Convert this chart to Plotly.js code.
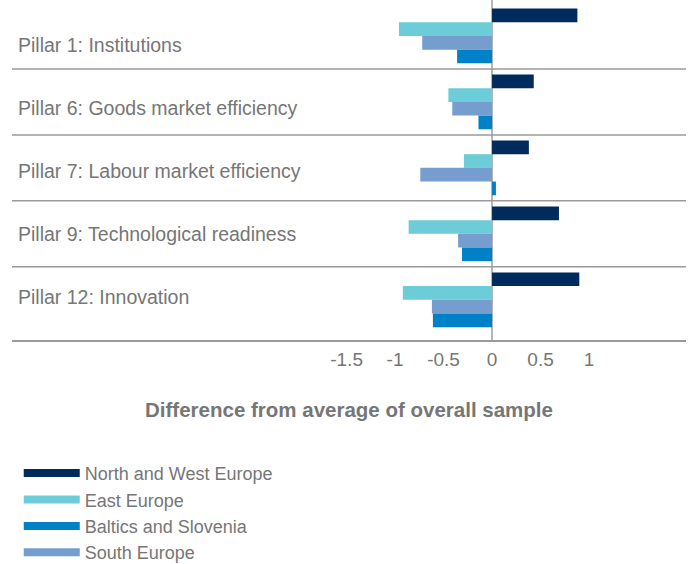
<!DOCTYPE html>
<html>
<head>
<meta charset="utf-8">
<script src="https://cdn.plot.ly/plotly-3.0.1.min.js"></script>
<style>html,body{margin:0;padding:0;background:#fff;}#chart{width:694px;height:564px;}</style>
</head>
<body>
<div id="chart"></div>
<script>
const categories = [
  "Pillar 1: Institutions",
  "Pillar 6: Goods market efficiency",
  "Pillar 7: Labour market efficiency",
  "Pillar 9: Technological readiness",
  "Pillar 12: Innovation"
];
const seriesNames = ["North and West Europe", "East Europe", "South Europe", "Baltics and Slovenia"];
const northWest = [0.88, 0.43, 0.38, 0.69, 0.90];
const east = [-0.96, -0.45, -0.29, -0.86, -0.92];
const south = [-0.72, -0.41, -0.74, -0.35, -0.62];
const baltics = [-0.36, -0.14, 0.04, -0.31, -0.61];
const tickValues = [-1.5, -1, -0.5, 0, 0.5, 1];
const tickLabels = ["-1.5", "-1", "-0.5", "0", "0.5", "1"];

const seriesValues = [northWest, east, south, baltics];
const colors = ["#002b5c", "#6ccdd8", "#759ecf", "#0080c6"];
const legendRanks = [1, 2, 4, 3];
const idx = categories.map((c, i) => i);
const textColor = "#767676";
const font = "Liberation Sans, Arial, sans-serif";

const traces = [];
seriesValues.forEach((vals, s) => {
  traces.push({
    type: "bar", orientation: "h",
    x: vals, y: idx, name: seriesNames[s],
    marker: {color: colors[s]},
    showlegend: false, hoverinfo: "x+name"
  });
});
seriesValues.forEach((vals, s) => {
  traces.push({
    type: "scatter", mode: "lines",
    x: [null], y: [null], name: seriesNames[s],
    line: {color: colors[s], width: 8},
    legendrank: legendRanks[s], showlegend: true
  });
});

const shapes = [];
for (let i = 0; i < categories.length - 1; i++) {
  shapes.push({type: "line", xref: "paper", yref: "y", x0: 0, x1: 1, y0: i + 0.5, y1: i + 0.5,
    line: {color: "#9a9a9a", width: 1.5}, layer: "above"});
}

const annotations = categories.map((c, i) => ({
  text: c, xref: "paper", yref: "y", x: 0, y: i * 0.9545 + 0.137,
  xanchor: "left", yanchor: "middle", xshift: 4, showarrow: false,
  font: {family: font, size: 19.5, color: textColor}
}));

const layout = {
  width: 694, height: 564,
  margin: {l: 12, r: 8, t: 0, b: 224, autoexpand: false},
  paper_bgcolor: "#fff", plot_bgcolor: "#fff",
  barmode: "group", bargap: 0.17, bargroupgap: 0,
  font: {family: font, color: textColor},
  xaxis: {
    range: [-4.95, 2.0], tickvals: tickValues, ticktext: tickLabels,
    showgrid: false, zeroline: true, zerolinecolor: "#b5b5b5", zerolinewidth: 1.5,
    showline: true, linecolor: "#9a9a9a", linewidth: 1.5,
    ticks: "outside", ticklen: 2, tickcolor: "rgba(0,0,0,0)",
    tickfont: {family: font, size: 19, color: textColor},
    title: {text: "<b>Difference from average of overall sample</b>", standoff: 33,
      font: {family: font, size: 20.5, color: textColor}},
    fixedrange: true
  },
  yaxis: {
    type: "linear", range: [4.61, -0.545], showticklabels: false,
    showgrid: false, zeroline: false, showline: false, fixedrange: true
  },
  legend: {
    x: 0.01, xanchor: "left", y: -0.338, yanchor: "top",
    orientation: "v", traceorder: "normal", itemwidth: 56,
    font: {family: font, size: 18, color: textColor},
    bgcolor: "rgba(0,0,0,0)"
  },
  shapes: shapes,
  annotations: annotations
};

Plotly.newPlot("chart", traces, layout, {displayModeBar: false, staticPlot: true});
</script>
</body>
</html>
